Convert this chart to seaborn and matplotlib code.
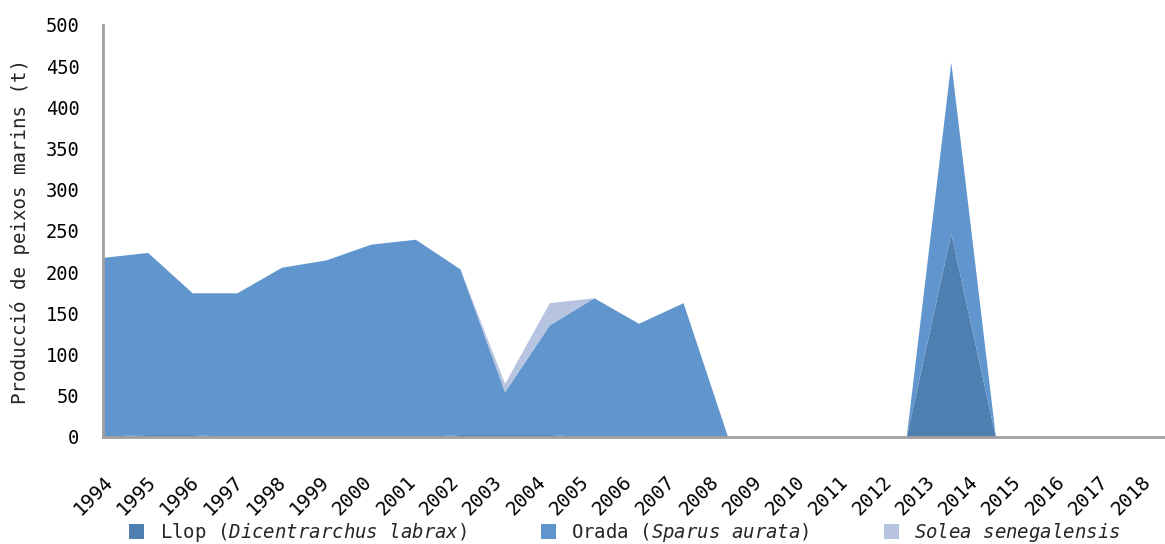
import numpy as np
import matplotlib
matplotlib.use('Agg')
import matplotlib.pyplot as plt
import seaborn as sns

# production of marine fish (t)
years = list(range(1994, 2019))
llop = [1, 3, 3, 0, 0, 0, 0, 0, 3, 3, 3, 0, 0, 0, 0, 0, 0, 0, 0, 247, 0, 0, 0, 0, 0]
orada = [217, 221, 172, 175, 206, 215, 234, 240, 201, 52, 133, 169, 138, 163, 0,
         0, 0, 0, 0, 208, 0, 0, 0, 0, 0]
solea = [0, 0, 0, 0, 0, 0, 0, 0, 0, 10, 27, 0, 0, 0, 0, 0, 0, 0, 0, 0, 0, 0, 0, 0, 0]

labels = [r"Llop $\mathit{(Dicentrarchus}$ $\mathit{labrax)}$",
          r"Orada $\mathit{(Sparus}$ $\mathit{aurata)}$",
          r"$\mathit{Solea}$ $\mathit{senegalensis}$"]
colors = ["#4f7eb1", "#6096cd", "#b6c4e1"]
grey = "#a0a0a0"

sns.set_theme(style="white")
plt.rcParams['font.family'] = ['DejaVu Sans Mono']
plt.rcParams['mathtext.fontset'] = 'custom'
plt.rcParams['mathtext.rm'] = 'DejaVu Sans Mono'
plt.rcParams['mathtext.it'] = 'DejaVu Sans Mono:italic'

fig = plt.figure(figsize=(11.65, 5.44), dpi=100)
ax = fig.add_axes([103 / 1165, 1 - 437 / 544, 1 - 103 / 1165, 412 / 544])

x = np.arange(len(years))
ax.stackplot(x, llop, orada, solea, colors=colors, labels=labels, linewidth=0)

ax.set_ylim(0, 500)
ax.set_xlim(0, 23.8)
ax.set_yticks(range(0, 501, 50))

# tick marks at each year, labels slightly compressed as in the source
ax.xaxis.remove_overlapping_locs = False
ax.set_xticks(x[:24])
ax.set_xticklabels([])
lab_pos = x * 23.27 / 24
ax.set_xticks(lab_pos, minor=True)
ax.set_xticklabels([str(y) for y in years], minor=True, rotation=45,
                   ha='right', rotation_mode='anchor', fontsize=14, color='black')
ax.tick_params(axis='x', which='minor', length=0, pad=25)
ax.tick_params(axis='x', which='major', direction='in', length=7, width=2, color=grey)
ax.tick_params(axis='y', direction='in', length=6, width=2, color=grey,
               labelsize=13.5, pad=17, labelcolor='black')

for s in ['top', 'right']:
    ax.spines[s].set_visible(False)
for s in ['left', 'bottom']:
    ax.spines[s].set_color(grey)
    ax.spines[s].set_linewidth(2)

ax.set_ylabel("Producció de peixos marins (t)", fontsize=13.8, labelpad=11)

ax.legend(loc='lower left', bbox_to_anchor=(0.0175, -0.279), ncol=3, frameon=False,
          fontsize=13.7, handlelength=0.8, handleheight=0.8, columnspacing=3.9,
          handletextpad=0.8, borderaxespad=0)

fig.savefig("out.png", dpi=100)
